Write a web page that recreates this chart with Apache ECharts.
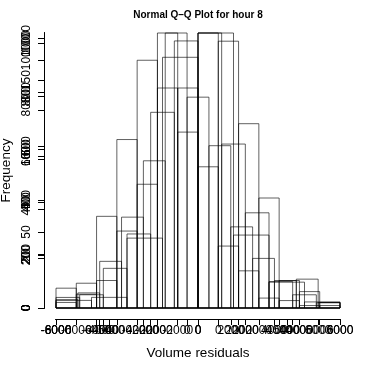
<!DOCTYPE html>
<html>
<head>
<meta charset="utf-8">
<script src="https://cdn.jsdelivr.net/npm/echarts@6/dist/echarts.min.js"></script>
<style>
  html, body { margin: 0; padding: 0; background: #fff; }
  #main { width: 374px; height: 374px; }
</style>
</head>
<body>
<div id="main"></div>
<script>
// five histograms drawn on top of each other, each with its own scales
var breaksA = [-8000,-7000,-6000,-5000,-4000,-3000,-2000,-1000,0,1000,2000,3000,4000,5000,6000];
var countsA = [8, 10, 37, 68, 100, 111, 71, 57, 25, 15, 4, 3, 1, 1];
var xTicksA = [-8000,-6000,-4000,-2000,0,2000,4000,6000];
var yTicksA = [0,20,40,60,80,100];
var yMaxA = 111;

var breaksB = [-7000,-6000,-5000,-4000,-3000,-2000,-1000,0,1000,2000,3000,4000,5000,6000,7000];
var countsB = [21, 52, 104, 291, 468, 832, 832, 1040, 1009, 697, 416, 104, 62, 21];
var xTicksB = [-6000,-4000,-2000,0,2000,4000,6000];
var yTicksB = [0,200,400,600,800,1000];
var yMaxB = 1040;

var breaksC = [-6000,-5000,-4000,-3000,-2000,-1000,0,1000,2000,3000,4000,5000,6000];
var countsC = [4, 5, 15, 28, 74, 101, 104, 62, 36, 10, 5, 2];
var xTicksC = [-6000,-4000,-2000,0,2000,4000,6000];
var yTicksC = [0,20,40,60,80,100];
var yMaxC = 104;

var breaksD = [-6000,-5000,-4000,-3000,-2000,-1000,0,1000,2000,3000,4000,5000,6000,7000];
var countsD = [31, 56, 173, 337, 546, 1020, 782, 602, 301, 184, 102, 107, 20];
var xTicksD = [-6000,-4000,-2000,0,2000,4000,6000];
var yTicksD = [0,200,400,600,800,1000];
var yMaxD = 1020;

var breaksE = [-8000,-6000,-4000,-2000,0,2000,4000,6000,8000];
var countsE = [5, 7, 46, 165, 181, 48, 17, 4];
var xTicksE = [-5000,0,5000];
var yTicksE = [0,50,100,150];
var yMaxE = 181;

var hists = [
  [breaksA, countsA, xTicksA, yTicksA, yMaxA],
  [breaksB, countsB, xTicksB, yTicksB, yMaxB],
  [breaksC, countsC, xTicksC, yTicksC, yMaxC],
  [breaksD, countsD, xTicksD, yTicksD, yMaxD],
  [breaksE, countsE, xTicksE, yTicksE, yMaxE]
];

var font = 'Liberation Sans, Arial, sans-serif';
var plain = function (v) { return String(v); };
var chart = echarts.init(document.getElementById('main'));

var xAxes = [], yAxes = [], series = [];
hists.forEach(function (h, i) {
  var br = h[0], ct = h[1];
  xAxes.push({
    type: 'value', gridIndex: 0, position: 'bottom', offset: 11,
    min: br[0], max: br[br.length - 1],
    name: i === 0 ? 'Volume residuals' : '',
    nameLocation: 'middle', nameGap: 27,
    nameTextStyle: { fontFamily: font, fontSize: 13.5, color: '#000' },
    axisLine: { show: true, onZero: false, lineStyle: { color: '#000', width: 1 } },
    axisTick: { show: true, length: 6, customValues: h[2], lineStyle: { color: '#000' } },
    axisLabel: { customValues: h[2], formatter: plain, margin: 6, fontFamily: font, fontSize: 12, color: '#000' },
    splitLine: { show: false }
  });
  yAxes.push({
    type: 'value', gridIndex: 0, position: 'left', offset: 12,
    min: 0, max: h[4],
    name: i === 0 ? 'Frequency' : '',
    nameLocation: 'middle', nameGap: 28,
    nameTextStyle: { fontFamily: font, fontSize: 13.5, color: '#000' },
    axisLine: { show: true, onZero: false, lineStyle: { color: '#000', width: 1 } },
    axisTick: { show: true, length: 6, customValues: h[3], lineStyle: { color: '#000' } },
    axisLabel: { customValues: h[3], formatter: plain, rotate: 90, margin: 11, fontFamily: font, fontSize: 12, color: '#000' },
    splitLine: { show: false }
  });
  var rows = [];
  for (var k = 0; k < ct.length; k++) rows.push([br[k], br[k + 1], ct[k]]);
  series.push({
    type: 'custom', xAxisIndex: i, yAxisIndex: i, silent: true, clip: false,
    data: rows,
    encode: { x: [0, 1], y: 2 },
    renderItem: function (params, api) {
      var p0 = api.coord([api.value(0), api.value(2)]);
      var p1 = api.coord([api.value(1), 0]);
      return {
        type: 'rect',
        shape: { x: p0[0], y: p0[1], width: p1[0] - p0[0], height: p1[1] - p0[1] },
        style: { fill: 'none', stroke: 'rgba(0,0,0,0.62)', lineWidth: 1 }
      };
    }
  });
});

var option = {
  animation: false,
  backgroundColor: '#fff',
  grid: { left: 56, right: 34, top: 33, bottom: 66, containLabel: false, outerBoundsMode: 'none' },
  graphic: [{
    type: 'text', x: 198, y: 15,
    style: { text: 'Normal Q\u2013Q Plot for hour 8', font: 'bold 10px ' + font,
             fill: '#000', textAlign: 'center', textVerticalAlign: 'middle' }
  }],
  xAxis: xAxes,
  yAxis: yAxes,
  series: series
};
chart.setOption(option);
</script>
</body>
</html>
